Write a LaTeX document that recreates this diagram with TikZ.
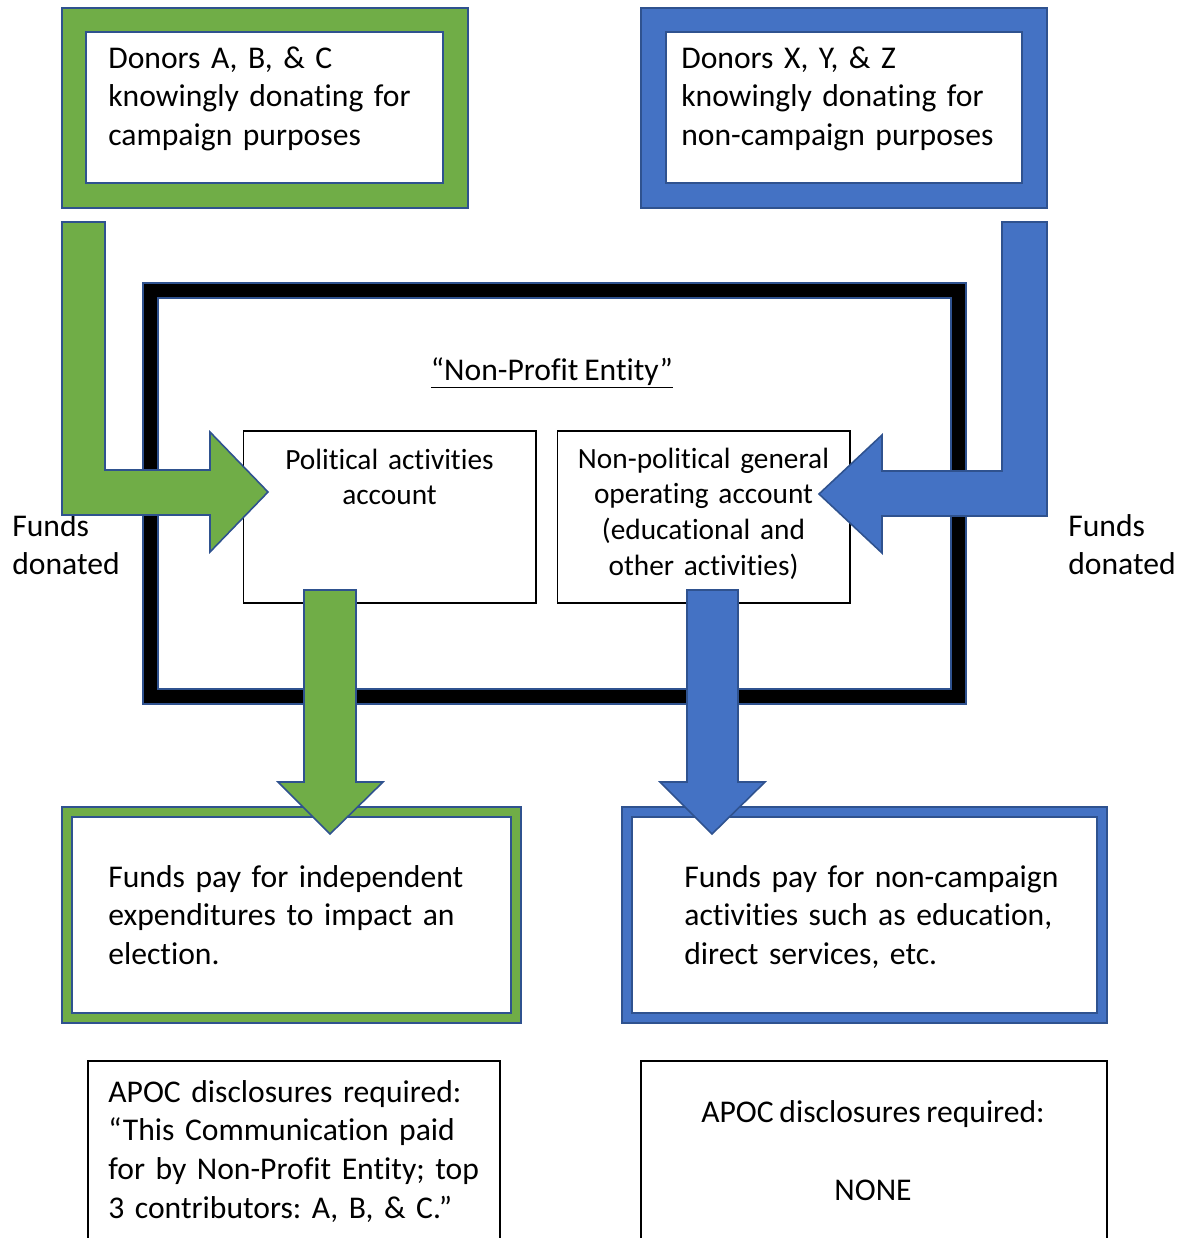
\documentclass[tikz,border=0pt]{standalone}
\usepackage{fontspec}
\setmainfont{Carlito}[Ligatures=NoCommon, WordSpace=0.8]
\frenchspacing
\usetikzlibrary{positioning, calc}
\definecolor{campaign-green}{RGB}{112,173,71}
\definecolor{general-blue}{RGB}{68,114,196}
\definecolor{edge-blue}{RGB}{47,82,143}
\tikzset{
  bigtext/.style={font=\fontsize{18}{22.1}\selectfont, inner sep=0pt, align=left},
  smalltext/.style={font=\fontsize{16.7}{20.4}\selectfont, inner sep=0pt, align=center},
  whitebox/.style={draw=edge-blue, line width=0.9pt, fill=white, inner sep=0pt},
  acct/.style={draw=black, line width=0.6pt, fill=white, inner sep=0pt},
  blockarrow/.style={draw=edge-blue, line width=0.9pt, line join=miter}
}

\begin{document}
\begin{tikzpicture}[x=0.02cm, y=-0.02cm]
    \useasboundingbox (0,0) rectangle (1183,1238);

    % Donor boxes at the top
    \draw[blockarrow, fill=campaign-green] (62,8) rectangle (468,208);
    \node[whitebox, minimum width=7.14cm, minimum height=3.02cm] (donorsABC) at (264.5,107.5) {};
    \node[bigtext, anchor=base west, text width=7cm] (donorsABC-text) at (108,68)
        {Donors A, B, \& C\\knowingly donating for\\campaign purposes};

    \draw[blockarrow, fill=general-blue] (641,8) rectangle (1047,208);
    \node[whitebox, minimum width=7.12cm, minimum height=3.02cm] (donorsXYZ) at (844,107.5) {};
    \node[bigtext, anchor=base west, text width=7cm] (donorsXYZ-text) at (681,68)
        {Donors X, Y, \& Z\\knowingly donating for\\non-campaign purposes};

    % Non-profit entity frame
    \fill[black, even odd rule] (143,283) rectangle (966,704) (158,298) rectangle (951,689);
    \draw[edge-blue, line width=0.8pt] (143,283) rectangle (966,704);
    \draw[edge-blue, line width=0.8pt] (158,298) rectangle (951,689);
    \node[bigtext, anchor=base] (entity) at (552,380) {\underline{“Non-Profit Entity”}};

    % Accounts inside the entity
    \node[acct, minimum width=5.86cm, minimum height=3.44cm] (political) at (389.5,517) {};
    \node[smalltext, anchor=base, text width=5.6cm] (political-text) at (389.5,469)
        {Political activities\\account};
    \node[acct, minimum width=5.86cm, minimum height=3.44cm] (general) at (703.5,517) {};
    \node[smalltext, anchor=base, text width=5.6cm] (general-text) at (703.5,468)
        {Non-political general\\operating account\\(educational and\\other activities)};

    % Spending boxes
    \draw[blockarrow, fill=campaign-green] (62,807) rectangle (521,1023);
    \node[whitebox, minimum width=8.78cm, minimum height=3.92cm] (independent) at (291.5,915) {};
    \node[bigtext, anchor=base west, text width=8.4cm] (independent-text) at (108,887)
        {Funds pay for independent\\expenditures to impact an\\election.};

    \draw[blockarrow, fill=general-blue] (622,807) rectangle (1107,1023);
    \node[whitebox, minimum width=9.3cm, minimum height=3.92cm] (services) at (864.5,915) {};
    \node[bigtext, anchor=base west, text width=8.4cm] (services-text) at (684,887)
        {Funds pay for non-campaign\\activities such as education,\\direct services, etc.};

    % Disclosure boxes, open at the bottom edge
    \draw[black, line width=0.6pt] (88,1250) -- (88,1061) -- (500,1061) -- (500,1250);
    \node[bigtext, anchor=base west, text width=8cm] (apoc-left) at (108,1102)
        {APOC disclosures required:\\“This Communication paid\\for by Non-Profit Entity; top\\3 contributors: A, B, \& C.”};
    \draw[black, line width=0.6pt] (641,1250) -- (641,1061) -- (1107,1061) -- (1107,1250);
    \node[bigtext, anchor=base, align=center] (apoc-right) at (873,1122) {APOC disclosures required:};
    \node[bigtext, anchor=base] (apoc-none) at (873,1200) {NONE};

    % Funds donated labels
    \node[bigtext, anchor=base west, text width=3cm] (donated-left) at (12,536) {Funds\\donated};
    \node[bigtext, anchor=base west, text width=3cm] (donated-right) at (1068,536) {Funds\\donated};

    % Block arrows
    \draw[blockarrow, fill=campaign-green] (62,222) -- (105,222) -- (105,470) -- (210,470) -- (210,432)
        -- (268,492) -- (210,552) -- (210,515) -- (62,515) -- cycle;
    \draw[blockarrow, fill=general-blue] (1047,222) -- (1002,222) -- (1002,471) -- (882,471) -- (882,435)
        -- (819,494) -- (882,553) -- (882,516) -- (1047,516) -- cycle;
    \draw[blockarrow, fill=campaign-green] (304,590) -- (356,590) -- (356,782) -- (383,782)
        -- (330,834) -- (278,782) -- (304,782) -- cycle;
    \draw[blockarrow, fill=general-blue] (687,590) -- (738,590) -- (738,782) -- (765,782)
        -- (712,834) -- (660,782) -- (687,782) -- cycle;
\end{tikzpicture}
\end{document}
